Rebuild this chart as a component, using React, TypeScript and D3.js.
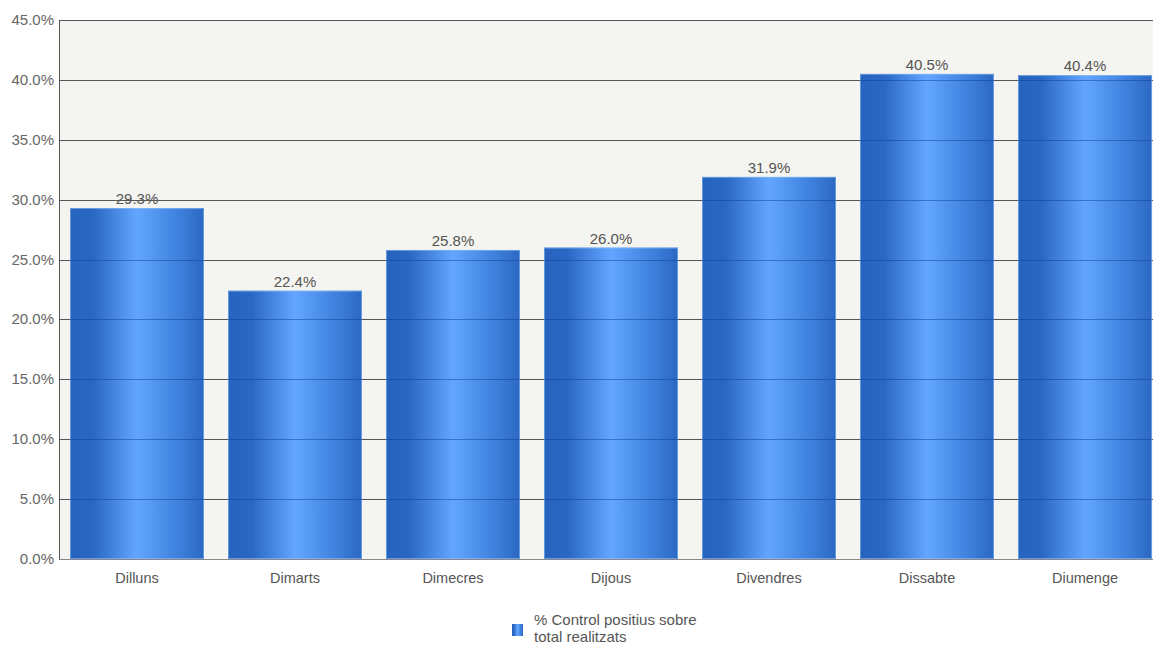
import React from "react";
import * as d3 from "d3";

const categories = ["Dilluns", "Dimarts", "Dimecres", "Dijous", "Divendres", "Dissabte", "Diumenge"];
const values = [29.3, 22.4, 25.8, 26.0, 31.9, 40.5, 40.4];
const yTicks = [0, 5, 10, 15, 20, 25, 30, 35, 40, 45];
const seriesName = ["% Control positius sobre", "total realitzats"];

export default function App() {
  const W = 1153, H = 645;
  const left = 59, top = 20, bottom = 559;
  const right = 59 + 7 * 158;
  const x = d3.scaleBand<string>().domain(categories).range([left - 1, right - 1]).paddingInner(24 / 158).paddingOuter(12 / 158);
  const y = d3.scaleLinear().domain([0, 45]).range([bottom, top]);
  const font = "'Liberation Sans', Arial, sans-serif";
  return (
    <svg width={W} height={H} style={{ position: "absolute", left: 0, top: 0 }} fontFamily={font}>
      <defs>
        <linearGradient id="barG" x1="0" x2="1" y1="0" y2="0">
          <stop offset="0" stopColor="#2563bd" />
          <stop offset="0.18" stopColor="#2a68c4" />
          <stop offset="0.5" stopColor="#63a6ff" />
          <stop offset="0.8" stopColor="#3f82de" />
          <stop offset="1" stopColor="#2b68c2" />
        </linearGradient>
      </defs>
      <rect x={left} y={top} width={right - left} height={bottom - top} fill="#f4f4f0" />
      {yTicks.map((t) => (
        <g key={t}>
          <line x1={left} x2={right} y1={Math.round(y(t)) + 0.5} y2={Math.round(y(t)) + 0.5} stroke="#555" strokeWidth={1} />
          <text x={54} y={y(t) + 5} textAnchor="end" fontSize={15} fill="#666">{t.toFixed(1) + "%"}</text>
        </g>
      ))}
      {categories.map((c, i) => {
        const bx = x(c)!, bw = x.bandwidth();
        const by = y(values[i]);
        return (
          <g key={c}>
            <rect x={bx} y={by} width={bw} height={bottom - by} fill="url(#barG)" />
            <rect x={bx + 0.5} y={by + 0.5} width={bw - 1} height={bottom - by - 1} fill="none" stroke="#8dbcf5" strokeOpacity={0.6} />
            {yTicks.filter((t) => t > 0 && t < values[i]).map((t) => (
              <line key={t} x1={bx} x2={bx + bw} y1={Math.round(y(t)) + 0.5} y2={Math.round(y(t)) + 0.5} stroke="#0a3a8a" strokeOpacity={0.45} />
            ))}
            <text x={bx + bw / 2} y={by - 4} textAnchor="middle" fontSize={15} fill="#555">{values[i].toFixed(1) + "%"}</text>
            <text x={bx + bw / 2} y={583} textAnchor="middle" fontSize={14.5} fill="#555">{c}</text>
          </g>
        );
      })}
      <line x1={left + 0.5} x2={left + 0.5} y1={top} y2={bottom} stroke="#555" />
      <line x1={left} x2={right} y1={bottom + 0.5} y2={bottom + 0.5} stroke="#888" />
      <rect x={512} y={624} width={11} height={12} fill="url(#barG)" />
      {seriesName.map((s, i) => (
        <text key={s} x={534} y={625 + i * 17} fontSize={15} fill="#555">{s}</text>
      ))}
    </svg>
  );
}
